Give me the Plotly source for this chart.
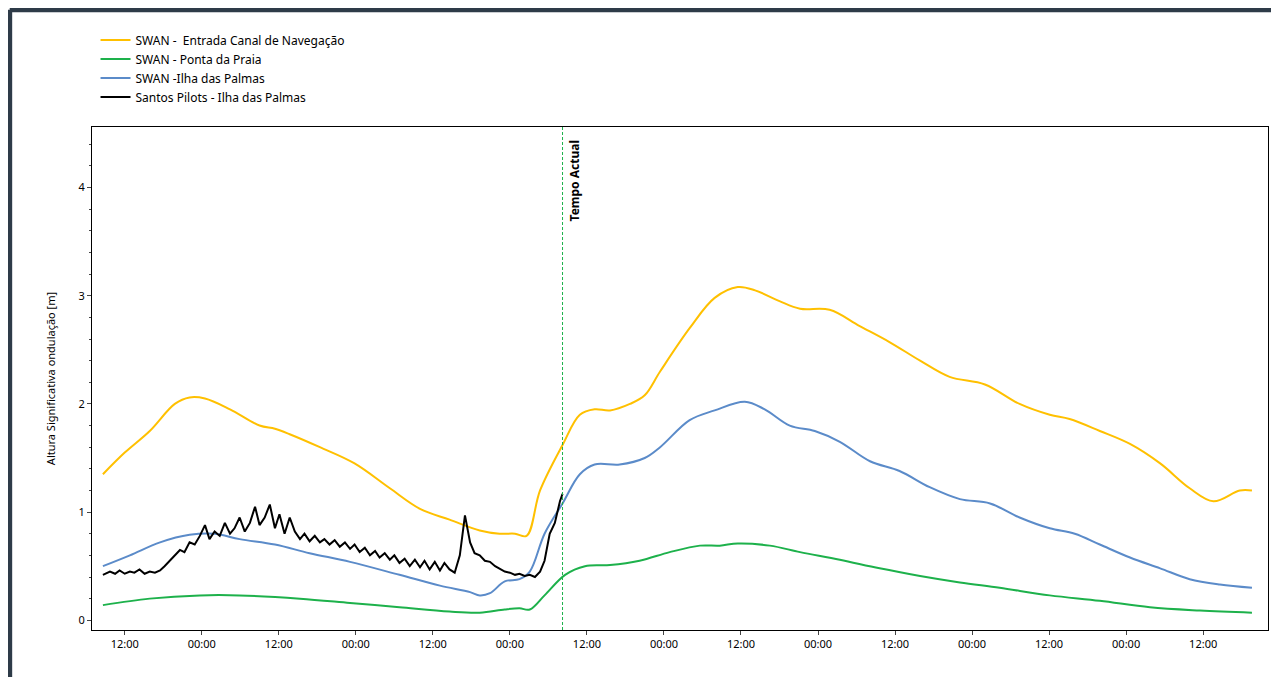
import pandas as pd
import plotly.graph_objects as go

# hours relative to first 12:00 tick
base = pd.Timestamp("2023-03-01 12:00")

yellow_h = [-3.4, 0, 3.9, 7.8, 10.1, 12.5, 16.4, 21, 23.4, 25.7, 30.4, 35.8, 41.3, 46, 50.6, 55.3, 58.4, 60.8, 62.6, 64.7,
            68.2, 70.9, 73.2, 75.6, 78.7, 81, 83.4, 88, 91.9, 95.5, 98.2, 102, 105.2, 109.8, 114.5, 119.2, 123.9, 128.5,
            134, 139.4, 144.1, 147.2, 151.9, 156.6, 161.3, 165.9, 169.6, 173.7, 175.6]
yellow_v = [1.35, 1.55, 1.75, 2.0, 2.06, 2.05, 1.95, 1.8, 1.77, 1.72, 1.6, 1.45, 1.22, 1.03, 0.93, 0.83, 0.80, 0.80, 0.78, 1.2,
            1.62, 1.9, 1.95, 1.94, 2.0, 2.08, 2.3, 2.7, 2.98, 3.08, 3.05, 2.95, 2.88, 2.87, 2.72, 2.57, 2.4, 2.25,
            2.18, 2.0, 1.9, 1.86, 1.75, 1.63, 1.45, 1.22, 1.1, 1.2, 1.2]

blue_h = [-3.4, 0.8, 5.5, 10.1, 14, 17.9, 23.4, 28.8, 35.1, 42.8, 49.1, 53.8, 55.3, 56.9, 59.2, 61.5, 63.1, 65.4, 68.2,
          70.9, 73.2, 77.1, 81, 83.4, 88, 91.9, 96.6, 99.7, 103.6, 107.5, 111.4, 116.1, 120.7, 125.4, 130.1, 134.8,
          139.4, 144.1, 148, 151.9, 156.6, 161.3, 165.9, 170.6, 175.6]
blue_v = [0.5, 0.6, 0.72, 0.79, 0.8, 0.75, 0.7, 0.62, 0.54, 0.42, 0.32, 0.26, 0.23, 0.25, 0.36, 0.38, 0.45, 0.8, 1.08,
          1.35, 1.44, 1.44, 1.5, 1.6, 1.85, 1.94, 2.02, 1.95, 1.8, 1.75, 1.65, 1.47, 1.38, 1.23, 1.12, 1.08,
          0.95, 0.85, 0.8, 0.7, 0.58, 0.48, 0.38, 0.33, 0.3]

green_h = [-3.4, 3.9, 11.7, 17.9, 27.3, 35.1, 42.8, 50.6, 55.3, 59.2, 61.5, 63.1, 65.4, 68.6, 71.7, 75.6, 80.2, 84.9,
           89.6, 92.7, 95.5, 100.5, 105.2, 111.4, 117.6, 123.9, 130.1, 136.3, 144.1, 151.9, 159.7, 167.5, 175.6]
green_v = [0.14, 0.2, 0.23, 0.23, 0.2, 0.16, 0.12, 0.08, 0.07, 0.1, 0.11, 0.1, 0.23, 0.42, 0.5, 0.51, 0.55, 0.63,
           0.69, 0.69, 0.71, 0.69, 0.63, 0.56, 0.48, 0.41, 0.35, 0.3, 0.23, 0.18, 0.12, 0.09, 0.07]

black_h = [-3.4, -2.3, -1.5, -0.8, 0, 0.8, 1.5, 2.3, 3.1, 3.9, 4.7, 5.5, 6.2, 7.0, 7.8, 8.6, 9.3, 10.1, 10.9, 11.7, 12.5,
           13.2, 14, 14.8, 15.6, 16.4, 17.1, 17.9, 18.7, 19.5, 20.3, 21, 21.8, 22.6, 23.4, 24.1, 24.9, 25.7, 26.5,
           27.3, 28, 28.8, 29.6, 30.4, 31.1, 31.9, 32.7, 33.5, 34.3, 35.1, 35.8, 36.6, 37.4, 38.2, 39, 39.7, 40.5,
           41.3, 42, 42.8, 43.6, 44.4, 45.2, 46, 46.7, 47.5, 48.3, 49.1, 49.8, 50.6, 51.4, 52.2, 53, 53.8, 54.5,
           55.3, 56.1, 56.9, 57.7, 58.4, 59.2, 60, 60.8, 61.5, 62.3, 63.1, 63.9, 64.7, 65.4, 66.2, 67, 67.8, 68.2]
black_v = [0.42, 0.45, 0.43, 0.46, 0.43, 0.45, 0.44, 0.47, 0.43, 0.45, 0.44, 0.46, 0.5, 0.55, 0.6, 0.65, 0.63, 0.72, 0.7,
           0.78, 0.88, 0.75, 0.82, 0.78, 0.9, 0.8, 0.85, 0.95, 0.82, 0.9, 1.05, 0.88, 0.95, 1.07, 0.85, 0.98, 0.8,
           0.95, 0.82, 0.75, 0.8, 0.73, 0.78, 0.72, 0.75, 0.7, 0.74, 0.68, 0.72, 0.66, 0.7, 0.63, 0.67, 0.6, 0.64,
           0.58, 0.62, 0.56, 0.6, 0.53, 0.57, 0.5, 0.56, 0.49, 0.55, 0.47, 0.54, 0.46, 0.53, 0.47, 0.44, 0.6, 0.97,
           0.72, 0.62, 0.6, 0.55, 0.54, 0.5, 0.48, 0.45, 0.44, 0.42, 0.43, 0.41, 0.42, 0.4, 0.45, 0.55, 0.8, 0.9,
           1.1, 1.17]

now_h = 68.2


def to_time(hours):
    return [base + pd.Timedelta(hours=h) for h in hours]


fig = go.Figure()
fig.add_trace(go.Scatter(x=to_time(yellow_h), y=yellow_v, mode='lines', line=dict(color='#FFC000', width=2, shape='spline'),
                         name='SWAN -  Entrada Canal de Navegação'))
fig.add_trace(go.Scatter(x=to_time(green_h), y=green_v, mode='lines', line=dict(color='#1DB14B', width=2, shape='spline'),
                         name='SWAN - Ponta da Praia'))
fig.add_trace(go.Scatter(x=to_time(blue_h), y=blue_v, mode='lines', line=dict(color='#5B8BC9', width=2, shape='spline'),
                         name='SWAN -Ilha das Palmas'))
fig.add_trace(go.Scatter(x=to_time(black_h), y=black_v, mode='lines', line=dict(color='black', width=2),
                         name='Santos Pilots - Ilha das Palmas'))

now_t = base + pd.Timedelta(hours=now_h)
fig.add_vline(x=now_t, line=dict(color='#1DB14B', width=1, dash='3px,2px'))
fig.add_annotation(x=now_t, y=4.45, text='<b>Tempo Actual</b>', textangle=-90, showarrow=False,
                   xanchor='left', yanchor='top', xshift=1, font=dict(size=12, color='black'))

# dark frame at top and left of the panel
fig.add_shape(type='line', xref='paper', yref='paper', x0=-0.07, x1=1.02, y0=1.233, y1=1.233,
              line=dict(color='#2E3B48', width=5))
fig.add_shape(type='line', xref='paper', yref='paper', x0=-0.07, x1=-0.07, y0=-0.12, y1=1.233,
              line=dict(color='#2E3B48', width=5))

fig.update_layout(
    width=1279, height=677,
    margin=dict(l=84, r=19, t=119, b=55, autoexpand=False),
    paper_bgcolor='white', plot_bgcolor='white',
    font=dict(family='Noto Sans', size=12, color='black'),
    showlegend=True,
    legend=dict(x=0.003, y=1.202, xanchor='left', yanchor='top', bgcolor='rgba(0,0,0,0)',
                font=dict(size=12), tracegroupgap=0, itemwidth=30),
    xaxis=dict(type='date', range=[base - pd.Timedelta(hours=5.1), base + pd.Timedelta(hours=178.1)],
               tick0=base, dtick=12 * 3600 * 1000, tickformat='%H:%M', showgrid=False,
               showline=True, linecolor='black', mirror=True, ticks='outside', ticklen=4,
               tickfont=dict(size=11)),
    yaxis=dict(range=[-0.09, 4.56], tickvals=[0, 1, 2, 3, 4], showgrid=False, zeroline=False,
               showline=True, linecolor='black', mirror=True, ticks='outside', ticklen=4,
               minor=dict(dtick=0.2, ticks='outside', ticklen=2),
               title=dict(text='Altura Significativa ondulação [m]', font=dict(size=11), standoff=20),
               tickfont=dict(size=11)),
)

fig.write_html("out.html")
